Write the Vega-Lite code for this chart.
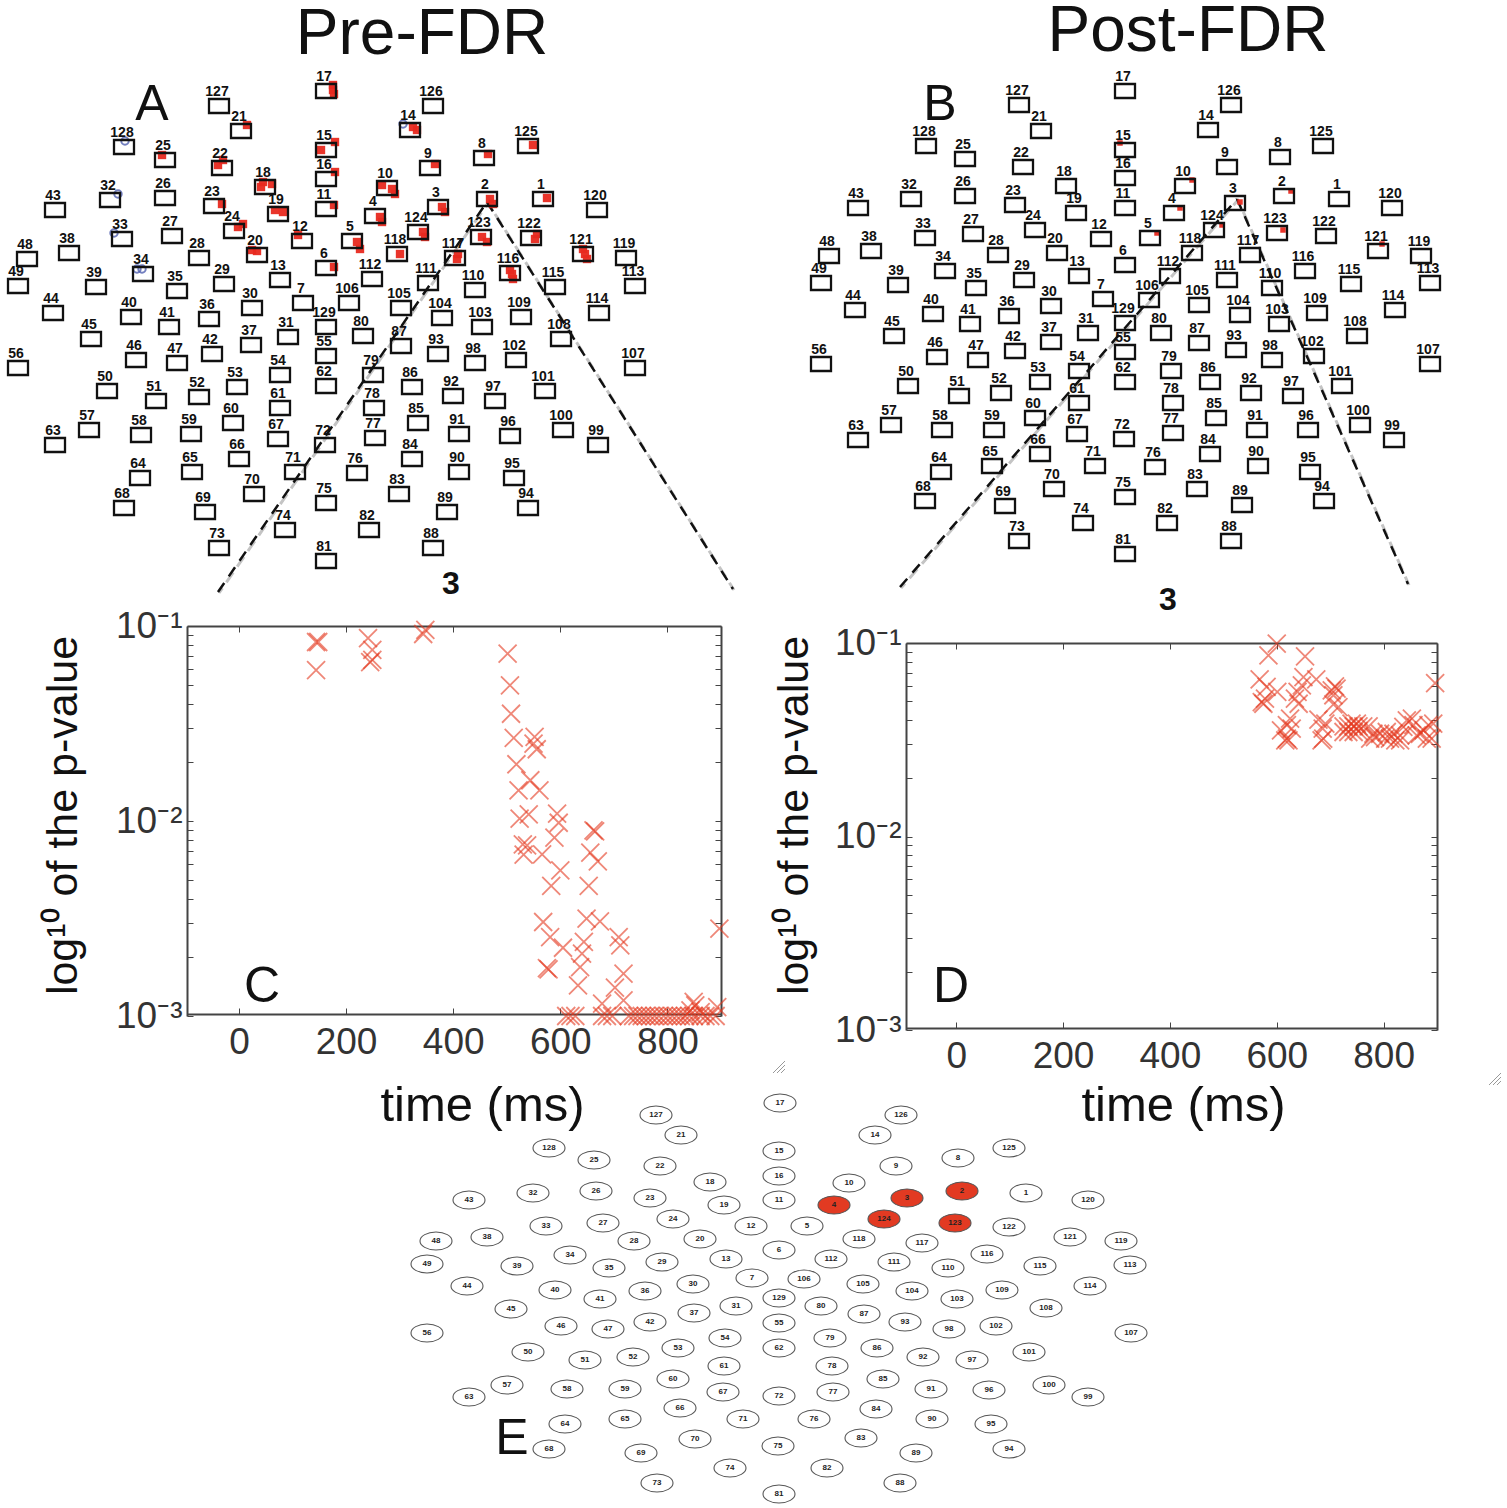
{"$schema":"https://vega.github.io/schema/vega-lite/v6.json","width":1507,"height":1508,"autosize":{"type":"fit","contains":"padding"},"padding":0,"background":"white","config":{"view":{"stroke":null},"font":"Liberation Sans","axis":{"grid":false}},
"resolve":{"scale":{"x":"independent","y":"independent"},"axis":{"x":"independent","y":"independent"}},
"datasets":{
"sensors":[
{"id":1,"ax":543,"ay":197,"bx":1339,"by":197,"ex":1026,"ey":1191},{"id":2,"ax":487,"ay":197,"bx":1284,"by":194,"ex":962,"ey":1189},{"id":3,"ax":438,"ay":205,"bx":1235,"by":201,"ex":907,"ey":1196},{"id":4,"ax":375,"ay":214,"bx":1174,"by":211,"ex":834,"ey":1203},{"id":5,"ax":352,"ay":239,"bx":1150,"by":236,"ex":807,"ey":1224},{"id":6,"ax":326,"ay":266,"bx":1125,"by":263,"ex":779,"ey":1248},{"id":7,"ax":303,"ay":301,"bx":1103,"by":297,"ex":752,"ey":1276},{"id":8,"ax":484,"ay":156,"bx":1280,"by":155,"ex":958,"ey":1156},{"id":9,"ax":430,"ay":166,"bx":1227,"by":165,"ex":896,"ey":1164},{"id":10,"ax":387,"ay":186,"bx":1185,"by":184,"ex":849,"ey":1181},
{"id":11,"ax":326,"ay":207,"bx":1125,"by":206,"ex":779,"ey":1198},{"id":12,"ax":302,"ay":239,"bx":1101,"by":237,"ex":751,"ey":1224},{"id":13,"ax":280,"ay":278,"bx":1079,"by":274,"ex":726,"ey":1257},{"id":14,"ax":410,"ay":128,"bx":1208,"by":128,"ex":875,"ey":1133},{"id":15,"ax":326,"ay":148,"bx":1125,"by":148,"ex":779,"ey":1149},{"id":16,"ax":326,"ay":177,"bx":1125,"by":176,"ex":779,"ey":1174},{"id":17,"ax":326,"ay":89,"bx":1125,"by":89,"ex":780,"ey":1101},{"id":18,"ax":265,"ay":185,"bx":1066,"by":184,"ex":710,"ey":1180},{"id":19,"ax":278,"ay":212,"bx":1076,"by":211,"ex":724,"ey":1203},{"id":20,"ax":257,"ay":253,"bx":1057,"by":251,"ex":700,"ey":1237},
{"id":21,"ax":241,"ay":129,"bx":1041,"by":129,"ex":681,"ey":1133},{"id":22,"ax":222,"ay":166,"bx":1023,"by":165,"ex":660,"ey":1164},{"id":23,"ax":214,"ay":204,"bx":1015,"by":203,"ex":650,"ey":1196},{"id":24,"ax":234,"ay":229,"bx":1035,"by":228,"ex":673,"ey":1217},{"id":25,"ax":165,"ay":158,"bx":965,"by":157,"ex":594,"ey":1158},{"id":26,"ax":165,"ay":196,"bx":965,"by":194,"ex":596,"ey":1189},{"id":27,"ax":172,"ay":234,"bx":973,"by":232,"ex":603,"ey":1221},{"id":28,"ax":199,"ay":256,"bx":998,"by":253,"ex":634,"ey":1239},{"id":29,"ax":224,"ay":282,"bx":1024,"by":278,"ex":662,"ey":1260},{"id":30,"ax":252,"ay":306,"bx":1051,"by":304,"ex":693,"ey":1282},
{"id":31,"ax":288,"ay":335,"bx":1088,"by":331,"ex":736,"ey":1304},{"id":32,"ax":110,"ay":198,"bx":911,"by":197,"ex":533,"ey":1191},{"id":33,"ax":122,"ay":237,"bx":925,"by":236,"ex":546,"ey":1224},{"id":34,"ax":143,"ay":272,"bx":945,"by":269,"ex":570,"ey":1253},{"id":35,"ax":177,"ay":289,"bx":976,"by":286,"ex":609,"ey":1266},{"id":36,"ax":209,"ay":317,"bx":1009,"by":314,"ex":645,"ey":1289},{"id":37,"ax":251,"ay":343,"bx":1051,"by":340,"ex":694,"ey":1311},{"id":38,"ax":69,"ay":251,"bx":871,"by":249,"ex":487,"ey":1235},{"id":39,"ax":96,"ay":285,"bx":898,"by":283,"ex":517,"ey":1264},{"id":40,"ax":131,"ay":315,"bx":933,"by":312,"ex":555,"ey":1288},
{"id":41,"ax":169,"ay":325,"bx":970,"by":322,"ex":600,"ey":1297},{"id":42,"ax":212,"ay":352,"bx":1015,"by":349,"ex":650,"ey":1320},{"id":43,"ax":55,"ay":208,"bx":858,"by":206,"ex":469,"ey":1198},{"id":44,"ax":53,"ay":311,"bx":855,"by":308,"ex":467,"ey":1284},{"id":45,"ax":91,"ay":337,"bx":894,"by":334,"ex":511,"ey":1307},{"id":46,"ax":136,"ay":358,"bx":937,"by":355,"ex":561,"ey":1324},{"id":47,"ax":177,"ay":361,"bx":978,"by":358,"ex":608,"ey":1327},{"id":48,"ax":27,"ay":257,"bx":829,"by":254,"ex":436,"ey":1239},{"id":49,"ax":18,"ay":284,"bx":821,"by":281,"ex":427,"ey":1262},{"id":50,"ax":107,"ay":389,"bx":908,"by":384,"ex":528,"ey":1350},
{"id":51,"ax":156,"ay":399,"bx":959,"by":394,"ex":585,"ey":1358},{"id":52,"ax":199,"ay":395,"bx":1001,"by":391,"ex":633,"ey":1355},{"id":53,"ax":237,"ay":385,"bx":1040,"by":380,"ex":678,"ey":1346},{"id":54,"ax":280,"ay":373,"bx":1079,"by":369,"ex":725,"ey":1336},{"id":55,"ax":326,"ay":354,"bx":1125,"by":350,"ex":779,"ey":1321},{"id":56,"ax":18,"ay":366,"bx":821,"by":362,"ex":427,"ey":1331},{"id":57,"ax":89,"ay":428,"bx":891,"by":423,"ex":507,"ey":1383},{"id":58,"ax":141,"ay":433,"bx":942,"by":428,"ex":567,"ey":1387},{"id":59,"ax":191,"ay":432,"bx":994,"by":428,"ex":625,"ey":1387},{"id":60,"ax":233,"ay":421,"bx":1035,"by":416,"ex":673,"ey":1377},
{"id":61,"ax":280,"ay":406,"bx":1079,"by":401,"ex":724,"ey":1364},{"id":62,"ax":326,"ay":384,"bx":1125,"by":380,"ex":779,"ey":1346},{"id":63,"ax":55,"ay":443,"bx":858,"by":438,"ex":469,"ey":1395},{"id":64,"ax":140,"ay":476,"bx":941,"by":470,"ex":565,"ey":1422},{"id":65,"ax":192,"ay":470,"bx":992,"by":464,"ex":625,"ey":1417},{"id":66,"ax":239,"ay":457,"bx":1040,"by":452,"ex":680,"ey":1406},{"id":67,"ax":278,"ay":437,"bx":1077,"by":432,"ex":723,"ey":1390},{"id":68,"ax":124,"ay":506,"bx":925,"by":499,"ex":549,"ey":1447},{"id":69,"ax":205,"ay":510,"bx":1005,"by":504,"ex":641,"ey":1451},{"id":70,"ax":254,"ay":492,"bx":1054,"by":487,"ex":695,"ey":1437},
{"id":71,"ax":295,"ay":470,"bx":1095,"by":464,"ex":743,"ey":1417},{"id":72,"ax":325,"ay":443,"bx":1124,"by":437,"ex":779,"ey":1394},{"id":73,"ax":219,"ay":546,"bx":1019,"by":539,"ex":657,"ey":1481},{"id":74,"ax":285,"ay":528,"bx":1083,"by":521,"ex":730,"ey":1466},{"id":75,"ax":326,"ay":501,"bx":1125,"by":495,"ex":778,"ey":1444},{"id":76,"ax":357,"ay":471,"bx":1155,"by":465,"ex":814,"ey":1417},{"id":77,"ax":375,"ay":436,"bx":1173,"by":431,"ex":833,"ey":1390},{"id":78,"ax":374,"ay":406,"bx":1173,"by":401,"ex":832,"ey":1364},{"id":79,"ax":373,"ay":373,"bx":1171,"by":369,"ex":830,"ey":1336},{"id":80,"ax":363,"ay":334,"bx":1161,"by":331,"ex":821,"ey":1304},
{"id":81,"ax":326,"ay":559,"bx":1125,"by":552,"ex":779,"ey":1492},{"id":82,"ax":369,"ay":528,"bx":1167,"by":521,"ex":827,"ey":1466},{"id":83,"ax":399,"ay":492,"bx":1197,"by":487,"ex":861,"ey":1436},{"id":84,"ax":412,"ay":457,"bx":1210,"by":452,"ex":876,"ey":1407},{"id":85,"ax":418,"ay":421,"bx":1216,"by":416,"ex":883,"ey":1377},{"id":86,"ax":412,"ay":385,"bx":1210,"by":380,"ex":877,"ey":1346},{"id":87,"ax":401,"ay":344,"bx":1199,"by":341,"ex":864,"ey":1312},{"id":88,"ax":433,"ay":546,"bx":1231,"by":539,"ex":900,"ey":1481},{"id":89,"ax":447,"ay":510,"bx":1242,"by":503,"ex":916,"ey":1451},{"id":90,"ax":459,"ay":470,"bx":1258,"by":464,"ex":932,"ey":1417},
{"id":91,"ax":459,"ay":432,"bx":1257,"by":428,"ex":931,"ey":1387},{"id":92,"ax":453,"ay":394,"bx":1251,"by":391,"ex":923,"ey":1355},{"id":93,"ax":438,"ay":352,"bx":1236,"by":348,"ex":905,"ey":1320},{"id":94,"ax":528,"ay":506,"bx":1324,"by":499,"ex":1009,"ey":1447},{"id":95,"ax":514,"ay":476,"bx":1310,"by":470,"ex":991,"ey":1422},{"id":96,"ax":510,"ay":434,"bx":1308,"by":428,"ex":989,"ey":1388},{"id":97,"ax":495,"ay":399,"bx":1293,"by":394,"ex":972,"ey":1358},{"id":98,"ax":475,"ay":361,"bx":1272,"by":358,"ex":949,"ey":1327},{"id":99,"ax":598,"ay":443,"bx":1394,"by":438,"ex":1088,"ey":1395},{"id":100,"ax":563,"ay":428,"bx":1360,"by":423,"ex":1049,"ey":1383},
{"id":101,"ax":545,"ay":389,"bx":1342,"by":384,"ex":1029,"ey":1350},{"id":102,"ax":516,"ay":358,"bx":1314,"by":354,"ex":996,"ey":1324},{"id":103,"ax":482,"ay":325,"bx":1279,"by":322,"ex":957,"ey":1297},{"id":104,"ax":442,"ay":316,"bx":1240,"by":313,"ex":912,"ey":1289},{"id":105,"ax":401,"ay":306,"bx":1199,"by":303,"ex":863,"ey":1282},{"id":106,"ax":349,"ay":301,"bx":1149,"by":298,"ex":804,"ey":1277},{"id":107,"ax":635,"ay":366,"bx":1430,"by":362,"ex":1131,"ey":1331},{"id":108,"ax":561,"ay":337,"bx":1357,"by":334,"ex":1046,"ey":1306},{"id":109,"ax":521,"ay":315,"bx":1317,"by":311,"ex":1002,"ey":1288},{"id":110,"ax":475,"ay":288,"bx":1272,"by":286,"ex":948,"ey":1266},
{"id":111,"ax":428,"ay":281,"bx":1227,"by":278,"ex":894,"ey":1260},{"id":112,"ax":372,"ay":277,"bx":1170,"by":274,"ex":831,"ey":1257},{"id":113,"ax":635,"ay":284,"bx":1430,"by":281,"ex":1130,"ey":1263},{"id":114,"ax":599,"ay":311,"bx":1395,"by":308,"ex":1090,"ey":1284},{"id":115,"ax":555,"ay":285,"bx":1351,"by":282,"ex":1040,"ey":1264},{"id":116,"ax":510,"ay":271,"bx":1305,"by":269,"ex":987,"ey":1252},{"id":117,"ax":455,"ay":256,"bx":1250,"by":253,"ex":922,"ey":1241},{"id":118,"ax":397,"ay":252,"bx":1192,"by":251,"ex":859,"ey":1237},{"id":119,"ax":626,"ay":256,"bx":1421,"by":254,"ex":1121,"ey":1239},{"id":120,"ax":597,"ay":208,"bx":1392,"by":206,"ex":1088,"ey":1198},
{"id":121,"ax":583,"ay":252,"bx":1378,"by":249,"ex":1070,"ey":1235},{"id":122,"ax":531,"ay":236,"bx":1326,"by":234,"ex":1009,"ey":1225},{"id":123,"ax":481,"ay":235,"bx":1277,"by":231,"ex":955,"ey":1221},{"id":124,"ax":418,"ay":230,"bx":1214,"by":228,"ex":884,"ey":1217},{"id":125,"ax":528,"ay":144,"bx":1323,"by":144,"ex":1009,"ey":1146},{"id":126,"ax":433,"ay":104,"bx":1231,"by":103,"ex":901,"ey":1113},{"id":127,"ax":219,"ay":104,"bx":1019,"by":103,"ex":656,"ey":1113},{"id":128,"ax":124,"ay":145,"bx":926,"by":144,"ex":549,"ey":1146},{"id":129,"ax":326,"ay":325,"bx":1125,"by":321,"ex":779,"ey":1296}],
"redSpots":[{"x":333,"y":88},{"x":333,"y":83},{"x":334,"y":92},{"x":247,"y":123},{"x":162,"y":153},{"x":218,"y":163},{"x":223,"y":158},{"x":321,"y":148},{"x":335,"y":140},{"x":335,"y":170},{"x":261,"y":185},{"x":272,"y":182},{"x":263,"y":180},{"x":283,"y":210},{"x":275,"y":208},{"x":222,"y":202},{"x":238,"y":225},{"x":243,"y":222},{"x":257,"y":249},{"x":252,"y":248},{"x":298,"y":233},{"x":334,"y":203},{"x":334,"y":265},{"x":357,"y":240},{"x":360,"y":247},{"x":380,"y":215},{"x":382,"y":220},{"x":392,"y":187},{"x":395,"y":192},{"x":382,"y":183},{"x":417,"y":128},{"x":413,"y":125},{"x":435,"y":162},{"x":442,"y":205},{"x":445,"y":210},{"x":423,"y":230},{"x":425,"y":235},{"x":400,"y":252},{"x":457,"y":257},{"x":458,"y":252},{"x":482,"y":235},{"x":487,"y":240},{"x":512,"y":272},{"x":513,"y":277},{"x":510,"y":268},{"x":490,"y":197},{"x":493,"y":202},{"x":488,"y":152},{"x":533,"y":143},{"x":547,"y":196},{"x":535,"y":237},{"x":537,"y":232},{"x":585,"y":252},{"x":587,"y":257},{"x":583,"y":247}],
"redSpotsPost":[{"x":1157,"y":231},{"x":1180,"y":206},{"x":1192,"y":178},{"x":1240,"y":200},{"x":1291,"y":189},{"x":1222,"y":223},{"x":1283,"y":228},{"x":1382,"y":242},{"x":1120,"y":141}],
"blueSpots":[{"x":125,"y":139},{"x":118,"y":192},{"x":114,"y":231},{"x":137,"y":267},{"x":142,"y":267},{"x":403,"y":122}],
"lines":[{"line":"a1","x":487,"y":200},{"line":"a1","x":218,"y":590},{"line":"a2","x":487,"y":200},{"line":"a2","x":733,"y":587},{"line":"b1","x":1237,"y":197},{"line":"b1","x":900,"y":585},{"line":"b2","x":1237,"y":197},{"line":"b2","x":1408,"y":582}],
"titles":[{"t":"Pre-FDR","x":422,"y":33},{"t":"Post-FDR","x":1188,"y":30}],
"letters":[{"t":"A","x":152,"y":103},{"t":"B","x":940,"y":103},{"t":"C","x":262,"y":985},{"t":"D","x":951,"y":985},{"t":"E","x":512,"y":1437}],
"threes":[{"t":"3","x":451,"y":582},{"t":"3","x":1168,"y":598}],
"hatch":[{"x":779,"y":1065},{"x":1495,"y":1077}],
"pre":[{"time":501.6,"logp":-1.142},{"time":506,"logp":-1.304},{"time":508,"logp":-1.45},{"time":513,"logp":-1.574},{"time":518,"logp":-1.709},{"time":552,"logp":-1.569},{"time":556,"logp":-1.632},{"time":550,"logp":-1.603},{"time":544,"logp":-1.791},{"time":522,"logp":-1.843},{"time":561,"logp":-1.843},{"time":524,"logp":-1.988},{"time":541,"logp":-1.966},{"time":594,"logp":-1.962},{"time":597,"logp":-2.009},{"time":589,"logp":-2.085},{"time":662,"logp":-2.048},{"time":665,"logp":-2.053},{"time":530,"logp":-2.12},{"time":538,"logp":-2.125},{"time":531.5,"logp":-2.173},{"time":566,"logp":-2.171},{"time":656,"logp":-2.162},{"time":670,"logp":-2.207},{"time":600,"logp":-2.253},{"time":583,"logp":-2.333},{"time":653,"logp":-2.333},{"time":649,"logp":-2.501},{"time":674,"logp":-2.515},{"time":568,"logp":-2.518},{"time":581,"logp":-2.595},{"time":709,"logp":-2.595},{"time":712,"logp":-2.638},{"time":605,"logp":-2.65},{"time":644,"logp":-2.62},{"time":640.5,"logp":-2.68},{"time":637,"logp":-2.749},{"time":575,"logp":-2.754},{"time":578,"logp":-2.761},{"time":718,"logp":-2.783},{"time":633,"logp":-2.843},{"time":702,"logp":-2.855},{"time":718,"logp":-2.92},{"time":678,"logp":-2.937},{"time":897,"logp":-2.552},{"time":611,"logp":-3},{"time":619,"logp":-3},{"time":628,"logp":-3},{"time":678,"logp":-3},{"time":687,"logp":-3},{"time":697,"logp":-3},{"time":728,"logp":-3},{"time":736,"logp":-3},{"time":744,"logp":-3},{"time":752,"logp":-3},{"time":760,"logp":-3},{"time":768,"logp":-3},{"time":776,"logp":-3},{"time":784,"logp":-3},{"time":793,"logp":-3},{"time":801,"logp":-3},{"time":809,"logp":-3},{"time":817,"logp":-3},{"time":825,"logp":-3},{"time":833,"logp":-3},{"time":841,"logp":-3},{"time":849,"logp":-3},{"time":862,"logp":-3},{"time":871,"logp":-3},{"time":880,"logp":-3},{"time":890,"logp":-3},{"time":852,"logp":-2.945},{"time":843,"logp":-2.971},{"time":862,"logp":-2.98},{"time":893,"logp":-2.954},{"time":849,"logp":-2.928},{"time":144,"logp":-1.082},{"time":148,"logp":-1.082},{"time":144,"logp":-1.226},{"time":241,"logp":-1.062},{"time":249,"logp":-1.123},{"time":249,"logp":-1.174},{"time":245,"logp":-1.185},{"time":348,"logp":-1.02},{"time":344,"logp":-1.041}],
"post":[{"time":600,"logp":-1.003},{"time":584.5,"logp":-1.064},{"time":653,"logp":-1.069},{"time":568,"logp":-1.188},{"time":581,"logp":-1.227},{"time":601,"logp":-1.253},{"time":650,"logp":-1.176},{"time":674,"logp":-1.188},{"time":709,"logp":-1.224},{"time":703,"logp":-1.245},{"time":712,"logp":-1.236},{"time":706,"logp":-1.27},{"time":572,"logp":-1.305},{"time":575,"logp":-1.314},{"time":578,"logp":-1.288},{"time":639,"logp":-1.253},{"time":634,"logp":-1.288},{"time":641,"logp":-1.314},{"time":647,"logp":-1.219},{"time":706,"logp":-1.317},{"time":715.5,"logp":-1.331},{"time":896.5,"logp":-1.207},{"time":625,"logp":-1.391},{"time":619,"logp":-1.425},{"time":608,"logp":-1.451},{"time":628,"logp":-1.443},{"time":619,"logp":-1.494},{"time":616,"logp":-1.503},{"time":622,"logp":-1.503},{"time":678,"logp":-1.396},{"time":686,"logp":-1.443},{"time":687,"logp":-1.494},{"time":684,"logp":-1.503},{"time":691,"logp":-1.417},{"time":725,"logp":-1.431},{"time":734,"logp":-1.431},{"time":744,"logp":-1.431},{"time":753,"logp":-1.431},{"time":762,"logp":-1.431},{"time":772,"logp":-1.431},{"time":725,"logp":-1.46},{"time":734,"logp":-1.46},{"time":744,"logp":-1.46},{"time":753,"logp":-1.455},{"time":740,"logp":-1.417},{"time":750,"logp":-1.417},{"time":781,"logp":-1.469},{"time":793.5,"logp":-1.469},{"time":803,"logp":-1.494},{"time":812,"logp":-1.494},{"time":822,"logp":-1.503},{"time":775,"logp":-1.494},{"time":784,"logp":-1.486},{"time":831,"logp":-1.503},{"time":806,"logp":-1.46},{"time":818.5,"logp":-1.469},{"time":831,"logp":-1.477},{"time":843.5,"logp":-1.4},{"time":853,"logp":-1.391},{"time":837,"logp":-1.434},{"time":856,"logp":-1.425},{"time":868,"logp":-1.469},{"time":881,"logp":-1.494},{"time":890,"logp":-1.494},{"time":884,"logp":-1.425},{"time":893,"logp":-1.417},{"time":875,"logp":-1.451},{"time":862,"logp":-1.477}]
},
"layer":[
{"data":{"name":"lines"},"mark":{"type":"line","stroke":"#c4c4c4","strokeWidth":3,"strokeDash":[12,7],"strokeDashOffset":6},"encoding":{"detail":{"field":"line"},"x":{"field":"x","type":"quantitative","scale":{"domain":[0,1507],"range":[1,1508]},"axis":null},"y":{"field":"y","type":"quantitative","scale":{"domain":[0,1508],"range":[1,1509]},"axis":null}}},
{"data":{"name":"lines"},"mark":{"type":"line","stroke":"#111111","strokeWidth":2.5,"strokeDash":[11,8]},"encoding":{"detail":{"field":"line"},"x":{"field":"x","type":"quantitative","scale":{"domain":[0,1507],"range":[0,1507]},"axis":null},"y":{"field":"y","type":"quantitative","scale":{"domain":[0,1508],"range":[0,1508]},"axis":null}}},
{"data":{"name":"redSpots"},"mark":{"type":"point","shape":"square","filled":true,"size":70,"color":"#e8291f","opacity":0.95},"encoding":{"x":{"field":"x","type":"quantitative","scale":{"domain":[0,1507],"range":[0,1507]},"axis":null},"y":{"field":"y","type":"quantitative","scale":{"domain":[0,1508],"range":[0,1508]},"axis":null}}},
{"data":{"name":"redSpotsPost"},"mark":{"type":"point","shape":"square","filled":true,"size":30,"color":"#e8291f","opacity":0.95},"encoding":{"x":{"field":"x","type":"quantitative","scale":{"domain":[0,1507],"range":[0,1507]},"axis":null},"y":{"field":"y","type":"quantitative","scale":{"domain":[0,1508],"range":[0,1508]},"axis":null}}},
{"data":{"name":"blueSpots"},"mark":{"type":"point","shape":"circle","filled":false,"size":55,"stroke":"#5060b0","strokeWidth":2,"opacity":0.8},"encoding":{"x":{"field":"x","type":"quantitative","scale":{"domain":[0,1507],"range":[0,1507]},"axis":null},"y":{"field":"y","type":"quantitative","scale":{"domain":[0,1508],"range":[0,1508]},"axis":null}}},
{"data":{"name":"sensors"},"mark":{"type":"point","shape":"M-10,-7H10V7H-10Z","size":4,"filled":false,"stroke":"#111111","strokeWidth":2.3,"opacity":1},"encoding":{"x":{"field":"ax","type":"quantitative","scale":{"domain":[0,1507],"range":[0,1507]},"axis":null},"y":{"field":"ay","type":"quantitative","scale":{"domain":[0,1508],"range":[0,1508]},"axis":null}}},
{"data":{"name":"sensors"},"mark":{"type":"text","fontSize":14,"fontWeight":"bold","color":"#111111","dx":-2,"dy":-14},"encoding":{"text":{"field":"id"},"x":{"field":"ax","type":"quantitative","scale":{"domain":[0,1507],"range":[0,1507]},"axis":null},"y":{"field":"ay","type":"quantitative","scale":{"domain":[0,1508],"range":[0,1508]},"axis":null}}},
{"data":{"name":"sensors"},"mark":{"type":"point","shape":"M-10,-7H10V7H-10Z","size":4,"filled":false,"stroke":"#111111","strokeWidth":2.3,"opacity":1},"encoding":{"x":{"field":"bx","type":"quantitative","scale":{"domain":[0,1507],"range":[0,1507]},"axis":null},"y":{"field":"by","type":"quantitative","scale":{"domain":[0,1508],"range":[0,1508]},"axis":null}}},
{"data":{"name":"sensors"},"mark":{"type":"text","fontSize":14,"fontWeight":"bold","color":"#111111","dx":-2,"dy":-14},"encoding":{"text":{"field":"id"},"x":{"field":"bx","type":"quantitative","scale":{"domain":[0,1507],"range":[0,1507]},"axis":null},"y":{"field":"by","type":"quantitative","scale":{"domain":[0,1508],"range":[0,1508]},"axis":null}}},
{"data":{"name":"sensors"},"mark":{"type":"point","shape":"M-16,0A16,9 0 1,0 16,0A16,9 0 1,0 -16,0Z","size":4,"filled":true,"stroke":"#555555","strokeWidth":1.1,"opacity":1},"encoding":{"fill":{"condition":{"test":"indexof([2,3,4,123,124],datum.id)>=0","value":"#e23a22"},"value":"#ffffff"},"x":{"field":"ex","type":"quantitative","scale":{"domain":[0,1507],"range":[0,1507]},"axis":null},"y":{"field":"ey","type":"quantitative","scale":{"domain":[0,1508],"range":[0,1508]},"axis":null}}},
{"data":{"name":"sensors"},"mark":{"type":"text","fontSize":8,"fontWeight":"bold","color":"#222222"},"encoding":{"text":{"field":"id"},"x":{"field":"ex","type":"quantitative","scale":{"domain":[0,1507],"range":[0,1507]},"axis":null},"y":{"field":"ey","type":"quantitative","scale":{"domain":[0,1508],"range":[0,1508]},"axis":null}}},
{"data":{"name":"titles"},"mark":{"type":"text","fontSize":64,"color":"#111111"},"encoding":{"text":{"field":"t"},"x":{"field":"x","type":"quantitative","scale":{"domain":[0,1507],"range":[0,1507]},"axis":null},"y":{"field":"y","type":"quantitative","scale":{"domain":[0,1508],"range":[0,1508]},"axis":null}}},
{"data":{"name":"letters"},"mark":{"type":"text","fontSize":50,"color":"#111111"},"encoding":{"text":{"field":"t"},"x":{"field":"x","type":"quantitative","scale":{"domain":[0,1507],"range":[0,1507]},"axis":null},"y":{"field":"y","type":"quantitative","scale":{"domain":[0,1508],"range":[0,1508]},"axis":null}}},
{"data":{"name":"threes"},"mark":{"type":"text","fontSize":32,"fontWeight":"bold","color":"#111111"},"encoding":{"text":{"field":"t"},"x":{"field":"x","type":"quantitative","scale":{"domain":[0,1507],"range":[0,1507]},"axis":null},"y":{"field":"y","type":"quantitative","scale":{"domain":[0,1508],"range":[0,1508]},"axis":null}}},
{"data":{"name":"hatch"},"mark":{"type":"point","shape":"M-6,6L6,-6M-2,6L6,-2M2,6L6,2","size":4,"filled":false,"stroke":"#999999","strokeWidth":1,"opacity":1},"encoding":{"x":{"field":"x","type":"quantitative","scale":{"domain":[0,1507],"range":[0,1507]},"axis":null},"y":{"field":"y","type":"quantitative","scale":{"domain":[0,1508],"range":[0,1508]},"axis":null}}},
{"data":{"name":"pre"},"mark":{"type":"point","shape":"M-9,-9L9,9M-9,9L9,-9","size":4,"filled":false,"stroke":"#e5391f","strokeWidth":1.8,"opacity":0.6},"encoding":{"x":{"field":"time","type":"quantitative","scale":{"domain":[-97,900],"range":[187,721]},"axis":{"orient":"bottom","offset":-494,"values":[0,200,400,600,800],"tickSize":-6,"domainColor":"#444444","domainWidth":2,"tickColor":"#444444","labelFontSize":37,"labelColor":"#333333","labelPadding":16,"labelFlush":false,"title":"time (ms)","titleFontSize":49,"titleFontWeight":"normal","titleColor":"#111111","titleX":482,"titleY":67}},"y":{"field":"logp","type":"quantitative","scale":{"domain":[-3,-1],"range":[1014,624]},"axis":{"orient":"left","offset":-187,"values":[-1,-1.0458,-1.0969,-1.1549,-1.2218,-1.301,-1.3979,-1.5229,-1.699,-2,-2.0458,-2.0969,-2.1549,-2.2218,-2.301,-2.3979,-2.5229,-2.699,-3],"tickSize":-6,"domainColor":"#444444","domainWidth":2,"tickColor":"#444444","labelFontSize":37,"labelColor":"#333333","labelPadding":11,"labelOverlap":false,"labelExpr":"datum.value==-1?'10⁻¹':datum.value==-2?'10⁻²':datum.value==-3?'10⁻³':''","title":"log¹⁰ of the p-value","titleFontSize":43,"titleFontWeight":"normal","titleColor":"#111111","titleX":-102,"titleY":813}}}},
{"data":{"name":"pre"},"mark":{"type":"point","opacity":0},"encoding":{"x":{"field":"time","type":"quantitative","scale":{"domain":[-97,900],"range":[187,721]},"axis":{"orient":"top","offset":-624,"values":[0,200,400,600,800],"tickSize":-6,"domainColor":"#444444","domainWidth":2,"tickColor":"#444444","labels":false,"title":null}},"y":{"field":"logp","type":"quantitative","scale":{"domain":[-3,-1],"range":[1014,624]},"axis":{"orient":"right","offset":-786,"values":[-1,-1.0458,-1.0969,-1.1549,-1.2218,-1.301,-1.3979,-1.5229,-1.699,-2,-2.0458,-2.0969,-2.1549,-2.2218,-2.301,-2.3979,-2.5229,-2.699,-3],"tickSize":-6,"domainColor":"#444444","domainWidth":2,"tickColor":"#444444","labels":false,"title":null}}}},
{"data":{"name":"post"},"mark":{"type":"point","shape":"M-9,-9L9,9M-9,9L9,-9","size":4,"filled":false,"stroke":"#e5391f","strokeWidth":1.8,"opacity":0.6},"encoding":{"x":{"field":"time","type":"quantitative","scale":{"domain":[-94,900],"range":[906,1437]},"axis":{"orient":"bottom","offset":-480,"values":[0,200,400,600,800],"tickSize":-6,"domainColor":"#444444","domainWidth":2,"tickColor":"#444444","labelFontSize":37,"labelColor":"#333333","labelPadding":16,"labelFlush":false,"title":"time (ms)","titleFontSize":49,"titleFontWeight":"normal","titleColor":"#111111","titleX":1183,"titleY":53}},"y":{"field":"logp","type":"quantitative","scale":{"domain":[-3,-1],"range":[1028,641]},"axis":{"orient":"left","offset":-906,"values":[-1,-1.0458,-1.0969,-1.1549,-1.2218,-1.301,-1.3979,-1.5229,-1.699,-2,-2.0458,-2.0969,-2.1549,-2.2218,-2.301,-2.3979,-2.5229,-2.699,-3],"tickSize":-6,"domainColor":"#444444","domainWidth":2,"tickColor":"#444444","labelFontSize":37,"labelColor":"#333333","labelPadding":11,"labelOverlap":false,"labelExpr":"datum.value==-1?'10⁻¹':datum.value==-2?'10⁻²':datum.value==-3?'10⁻³':''","title":"log¹⁰ of the p-value","titleFontSize":43,"titleFontWeight":"normal","titleColor":"#111111","titleX":-90,"titleY":813}}}},
{"data":{"name":"post"},"mark":{"type":"point","opacity":0},"encoding":{"x":{"field":"time","type":"quantitative","scale":{"domain":[-94,900],"range":[906,1437]},"axis":{"orient":"top","offset":-641,"values":[0,200,400,600,800],"tickSize":-6,"domainColor":"#444444","domainWidth":2,"tickColor":"#444444","labels":false,"title":null}},"y":{"field":"logp","type":"quantitative","scale":{"domain":[-3,-1],"range":[1028,641]},"axis":{"orient":"right","offset":-70,"values":[-1,-1.0458,-1.0969,-1.1549,-1.2218,-1.301,-1.3979,-1.5229,-1.699,-2,-2.0458,-2.0969,-2.1549,-2.2218,-2.301,-2.3979,-2.5229,-2.699,-3],"tickSize":-6,"domainColor":"#444444","domainWidth":2,"tickColor":"#444444","labels":false,"title":null}}}}
]}
